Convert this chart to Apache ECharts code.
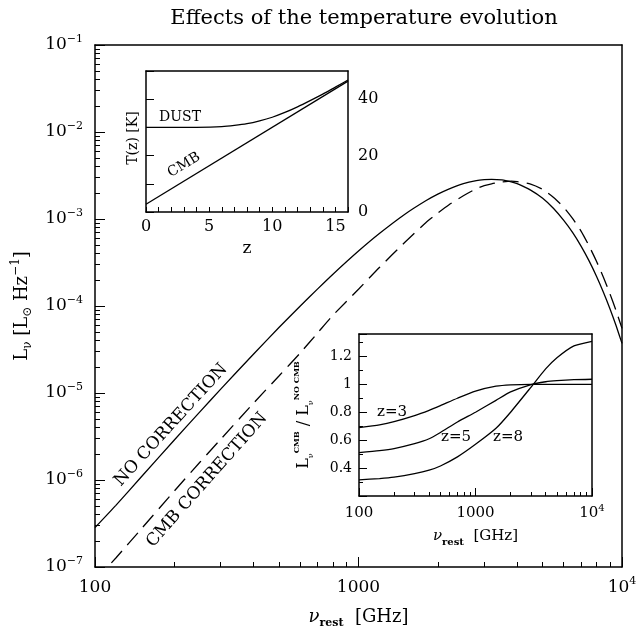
<!DOCTYPE html>
<html>
<head>
<meta charset="utf-8">
<script src="https://cdn.jsdelivr.net/npm/echarts/dist/echarts.min.js"></script>
<style>
html, body { margin: 0; padding: 0; background: #fff; }
#wrap { position: relative; width: 640px; height: 640px; background: #fff; }
.layer { position: absolute; left: 0; top: 0; width: 640px; height: 640px; }
</style>
</head>
<body>
<div id="wrap">
  <div id="textLayer" class="layer"></div>
  <div id="plotLayer" class="layer"></div>
  <div id="mirrorLayer" class="layer"></div>
</div>
<script>
// ---- Main panel: rest-frame SED with and without the CMB correction ----
const nuGHz = [100, 120, 150, 200, 250, 300, 400, 500, 600, 700, 800, 1000, 1200, 1500, 1800,
  2000, 2200, 2500, 2800, 3000, 3200, 3500, 3800, 4000, 4500, 5000, 5500, 6000, 6500, 7000,
  7500, 8000, 8500, 9000, 9500, 10000];
const lumNoCorrection = [2.84e-7, 5.11e-7, 1.09e-6, 2.88e-6, 6.07e-6, 1.107e-5, 2.81e-5, 5.69e-5,
  9.95e-5, 1.574e-4, 2.32e-4, 4.28e-4, 6.81e-4, 1.135e-3, 1.62e-3, 1.93e-3, 2.21e-3, 2.55e-3,
  2.76e-3, 2.83e-3, 2.86e-3, 2.81e-3, 2.67e-3, 2.55e-3, 2.15e-3, 1.73e-3, 1.32e-3, 9.70e-4,
  6.97e-4, 4.85e-4, 3.30e-4, 2.20e-4, 1.44e-4, 9.31e-5, 5.92e-5, 3.72e-5];
const lumCmbCorrection = [7.0e-8, 1.27e-7, 2.75e-7, 7.48e-7, 1.60e-6, 2.94e-6, 7.67e-6, 1.58e-5,
  2.87e-5, 4.91e-5, 7.83e-5, 1.56e-4, 2.77e-4, 5.41e-4, 9.06e-4, 1.17e-3, 1.45e-3, 1.85e-3,
  2.23e-3, 2.42e-3, 2.54e-3, 2.66e-3, 2.72e-3, 2.69e-3, 2.52e-3, 2.19e-3, 1.77e-3, 1.37e-3,
  1.01e-3, 7.21e-4, 4.90e-4, 3.27e-4, 2.14e-4, 1.38e-4, 8.79e-5, 5.53e-5];

// ---- Upper inset: dust and CMB temperature vs redshift ----
const zDust = [0, 2, 4, 6, 7, 8, 9, 10, 11, 12, 13, 14, 15, 16];
const tDust = [30, 30, 30.03, 30.3, 30.7, 31.3, 32.3, 33.6, 35.3, 37.3, 39.5, 41.8, 44.3, 46.8];
const zCmb = [0, 16];
const tCmb = [2.73, 46.4];

// ---- Lower inset: ratio of corrected to uncorrected luminosity ----
const nuRatio = [100, 150, 200, 300, 400, 500, 700, 1000, 1500, 2000, 3000, 4000, 5000, 7000, 10000];
const ratioZ3 = [0.69, 0.71, 0.732, 0.775, 0.813, 0.847, 0.90, 0.951, 0.986, 0.996, 1.0, 1.0, 1.0, 1.0, 1.0];
const ratioZ5 = [0.51, 0.525, 0.54, 0.575, 0.61, 0.655, 0.73, 0.80, 0.885, 0.945, 0.998, 1.018, 1.026, 1.033, 1.036];
const ratioZ8 = [0.316, 0.325, 0.335, 0.36, 0.385, 0.415, 0.48, 0.57, 0.685, 0.80, 0.98, 1.11, 1.19, 1.275, 1.308];

// Panel layout and axis ranges shared by all layers
const panels = [
  { left: 95, top: 45, width: 527, height: 522 },
  { left: 146, top: 71, width: 202, height: 141 },
  { left: 359, top: 334, width: 233, height: 162 }
];
const xRanges = [{ type: 'log', min: 100, max: 10000 }, { type: 'value', min: 0, max: 16 }, { type: 'log', min: 100, max: 10000 }];
const yRanges = [{ type: 'log', min: 1e-7, max: 1e-1 }, { type: 'value', min: 0, max: 50 }, { type: 'value', min: 0.2, max: 1.36 }];

const F = 'DejaVu Serif';
const INK = '#000';

// ---------- frame + tick layers (bottom/left and top/right) ----------
const tickSpecX = [
  { major: 10, minor: 5, split: 9 },
  { major: 5, interval: 1 },
  { major: 8, minor: 4, split: 9 }
];
const tickSpecY = [
  { major: 10, minor: 5, split: 9 },
  { major: 8, interval: 10 },
  { major: 8, minor: 4, split: 2, interval: 0.2 }
];

function frameAxis(i, range, spec, position) {
  const a = {
    gridIndex: i, type: range.type, min: range.min, max: range.max, position: position,
    axisLine: { show: true, onZero: false, lineStyle: { color: INK, width: 1.5 } },
    splitLine: { show: false }, minorSplitLine: { show: false },
    axisLabel: { show: false },
    axisTick: { show: true, inside: true, length: spec.major, lineStyle: { color: INK, width: 1 } }
  };
  if (spec.interval) a.interval = spec.interval;
  if (spec.minor) a.minorTick = { show: true, splitNumber: spec.split, length: spec.minor, lineStyle: { color: INK, width: 1 } };
  return a;
}

function curve(xi, yi, xs, ys, dashed) {
  return {
    type: 'line', xAxisIndex: xi, yAxisIndex: yi, showSymbol: false, smooth: 0.2,
    silent: true, z: 3, clip: true,
    data: xs.map((x, i) => [x, ys[i]]),
    lineStyle: { color: INK, width: 1.3, type: dashed ? [16, 8] : 'solid' }
  };
}

const plot = echarts.init(document.getElementById('plotLayer'), null, { renderer: 'canvas' });
try {
  plot.setOption({
    animation: false,
    grid: panels.map(p => Object.assign({}, p)),
    xAxis: xRanges.map((r, i) => frameAxis(i, r, tickSpecX[i], 'bottom')),
    yAxis: yRanges.map((r, i) => frameAxis(i, r, tickSpecY[i], 'left')),
    series: [
      curve(0, 0, nuGHz, lumNoCorrection, false),
      curve(0, 0, nuGHz, lumCmbCorrection, true),
      curve(1, 1, zDust, tDust, false),
      curve(1, 1, zCmb, tCmb, false),
      curve(2, 2, nuRatio, ratioZ3, false),
      curve(2, 2, nuRatio, ratioZ5, false),
      curve(2, 2, nuRatio, ratioZ8, false)
    ]
  });
} catch (err) { console.error(err); }

const mirror = echarts.init(document.getElementById('mirrorLayer'), null, { renderer: 'canvas' });
try {
  mirror.setOption({
    animation: false,
    grid: panels.map(p => Object.assign({}, p)),
    xAxis: xRanges.map((r, i) => frameAxis(i, r, tickSpecX[i], 'top')),
    yAxis: yRanges.map((r, i) => frameAxis(i, r, tickSpecY[i], 'right')),
    series: [0, 1, 2].map(i => ({
      type: 'line', xAxisIndex: i, yAxisIndex: i, silent: true, showSymbol: false,
      data: [[xRanges[i].max, yRanges[i].max]], lineStyle: { opacity: 0 }
    }))
  });
} catch (err) { console.error(err); }

// ---------- text layer: title, tick labels, axis names, annotations ----------
const richSet = (size, small) => ({
  b: { fontFamily: F, fontSize: size, color: INK, lineHeight: size + 6 },
  sup: { fontFamily: F, fontSize: small, color: INK, lineHeight: small + 2, verticalAlign: 'top' },
  sub: { fontFamily: F, fontSize: small, color: INK, lineHeight: small + 2, verticalAlign: 'bottom' },
  it: { fontFamily: F, fontSize: size, color: INK, fontStyle: 'italic', lineHeight: size + 6 },
  bs: { fontFamily: F, fontSize: small, color: INK, fontWeight: 'bold', lineHeight: small + 2, verticalAlign: 'bottom' },
  bp: { fontFamily: F, fontSize: small, color: INK, fontWeight: 'bold', lineHeight: small + 2, verticalAlign: 'top' }
});

function powLabel(v) {
  const e = Math.round(Math.log10(v));
  return '{b|10}{sup|' + String(e).replace('-', '\u2212') + '}';
}
function nuLabel(v) {
  if (v >= 9999) return '{b|10}{sup|4}';
  return '{b|' + Math.round(v) + '}';
}

function labelAxis(i, range, extra) {
  return Object.assign({
    gridIndex: i, type: range.type, min: range.min, max: range.max,
    axisLine: { show: false, onZero: false }, axisTick: { show: false }, minorTick: { show: false },
    splitLine: { show: false }, minorSplitLine: { show: false }
  }, extra);
}

function label(text, x, y, size, deg) {
  return {
    type: 'text', x: x, y: y, rotation: (deg || 0) * Math.PI / 180, z: 10, silent: true,
    style: { text: text, fontFamily: F, fontSize: size, fill: INK, align: 'center', verticalAlign: 'middle' }
  };
}

const texts = echarts.init(document.getElementById('textLayer'), null, { renderer: 'canvas' });
try {
  texts.setOption({
    backgroundColor: '#fff',
    animation: false,
    title: {
      text: 'Effects of the temperature evolution',
      left: 359, top: 3, textAlign: 'center',
      textStyle: { fontFamily: F, fontSize: 21, fontWeight: 'normal', color: INK }
    },
    grid: panels.map(p => Object.assign({ show: false }, p)),
    xAxis: [
      labelAxis(0, xRanges[0], { position: 'bottom',
        axisLabel: { show: true, margin: 9, formatter: nuLabel, rich: richSet(17, 11) },
        name: '{it|\u03bd}{bs|rest}{b|  [GHz]}', nameLocation: 'middle', nameGap: 38,
        nameTextStyle: { rich: richSet(18, 11) } }),
      labelAxis(1, xRanges[1], { position: 'bottom', interval: 5,
        axisLabel: { show: true, margin: 7, fontFamily: F, fontSize: 16, color: INK, showMaxLabel: false },
        name: 'z', nameLocation: 'middle', nameGap: 28,
        nameTextStyle: { fontFamily: F, fontSize: 17, color: INK } }),
      labelAxis(2, xRanges[2], { position: 'bottom',
        axisLabel: { show: true, margin: 7, formatter: nuLabel, rich: richSet(15, 10) },
        name: '{it|\u03bd}{bs|rest}{b|  [GHz]}', nameLocation: 'middle', nameGap: 30,
        nameTextStyle: { rich: richSet(15, 10) } })
    ],
    yAxis: [
      labelAxis(0, yRanges[0], { position: 'left',
        axisLabel: { show: true, margin: 12, formatter: powLabel, rich: richSet(17, 11) },
        name: '{b|L}{sub|\u03bd}{b| [L}{sub|\u2299}{b| Hz}{sup|\u22121}{b|]}', nameLocation: 'middle', nameGap: 58,
        nameTextStyle: { rich: richSet(18, 12) } }),
      labelAxis(1, yRanges[1], { position: 'right', interval: 20,
        axisLabel: { show: true, margin: 10, fontFamily: F, fontSize: 16, color: INK, showMaxLabel: false } }),
      labelAxis(2, yRanges[2], { position: 'left', interval: 0.2,
        axisLabel: { show: true, margin: 7, fontFamily: F, fontSize: 14, color: INK,
          showMinLabel: false, showMaxLabel: false,
          formatter: v => String(Math.round(v * 10) / 10) },
        name: '{b|L}{sub|\u03bd}{bp|CMB}{b| / L}{sub|\u03bd}{bp|NO CMB}', nameLocation: 'middle', nameGap: 44,
        nameTextStyle: { rich: richSet(16, 8) } })
    ],
    series: [],
    graphic: [
      label('NO CORRECTION', 171, 425, 17, 47.6),
      label('CMB CORRECTION', 207, 480, 17, 48.5),
      label('DUST', 180, 117, 14, 0),
      label('CMB', 184, 165, 14, 31),
      label('T(z) [K]', 133, 138, 14, 90),
      label('z=3', 392, 412, 15, 0),
      label('z=5', 456, 437, 15, 0),
      label('z=8', 508, 437, 15, 0)
    ]
  });
} catch (err) { console.error(err); }
</script>
</body>
</html>
